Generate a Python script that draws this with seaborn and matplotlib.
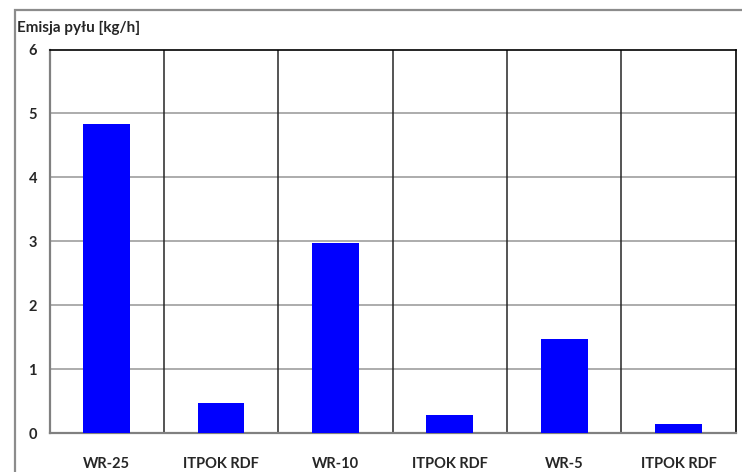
import matplotlib
matplotlib.use("Agg")
import matplotlib.pyplot as plt
import seaborn as sns
import pandas as pd
from matplotlib.patches import Rectangle

# Dust emission per installation
categories = ["WR-25", "ITPOK RDF", "WR-10", "ITPOK RDF ", "WR-5", "ITPOK RDF  "]
tick_labels = ["WR-25", "ITPOK RDF", "WR-10", "ITPOK RDF", "WR-5", "ITPOK RDF"]
emission = [4.83, 0.47, 2.97, 0.29, 1.47, 0.15]
y_ticks = [0, 1, 2, 3, 4, 5, 6]

df = pd.DataFrame({"kategoria": categories, "emisja": emission})

sns.set_theme(style="white")
plt.rcParams["font.family"] = ["Lato", "DejaVu Sans"]

fig = plt.figure(figsize=(7.42, 4.72), dpi=100)
W, H = 742, 472
ax = fig.add_axes([49.5 / W, 1 - 433.3 / H, (735.7 - 49.5) / W, (433.3 - 49.5) / H])

sns.barplot(data=df, x="kategoria", y="emisja", color="#0000FF", saturation=1,
            width=0.41, linewidth=0, ax=ax, zorder=3)

ax.set_ylim(0, 6)
ax.set_xlim(-0.5, len(categories) - 0.5)
ax.set_yticks(y_ticks)
ax.set_yticklabels([str(t) for t in y_ticks], fontsize=10.5, fontweight="bold")
ax.set_xticks(range(len(categories)))
ax.set_xticklabels(tick_labels, fontsize=10.5, fontweight="bold")
ax.tick_params(axis="x", length=0, pad=17)
ax.tick_params(axis="y", length=0, pad=9)
ax.set_xlabel("")
ax.set_ylabel("")

# horizontal grid
for t in y_ticks[1:-1]:
    ax.axhline(t, color="#A6A6A6", lw=1.3, zorder=1)
# category separators
for i in range(1, len(categories)):
    ax.axvline(i - 0.5, color="#262626", lw=1.1, zorder=2)

for side in ["left", "bottom"]:
    ax.spines[side].set_color("#808080")
    ax.spines[side].set_linewidth(1.6)
for side in ["top", "right"]:
    ax.spines[side].set_color("#000000")
    ax.spines[side].set_linewidth(1.2)
    ax.spines[side].set_visible(True)

fig.text(17 / W, 1 - 28 / H, "Emisja pyłu [kg/h]", fontsize=11, fontweight="bold",
         ha="left", va="center")

# frame around the chart area
fig.patches.append(Rectangle((15 / W, -0.1), 1.2, 1 - 10 / H + 0.1,
                             transform=fig.transFigure, fill=False,
                             edgecolor="#8C8C8C", lw=1.6))

fig.savefig("out.png", dpi=100)
